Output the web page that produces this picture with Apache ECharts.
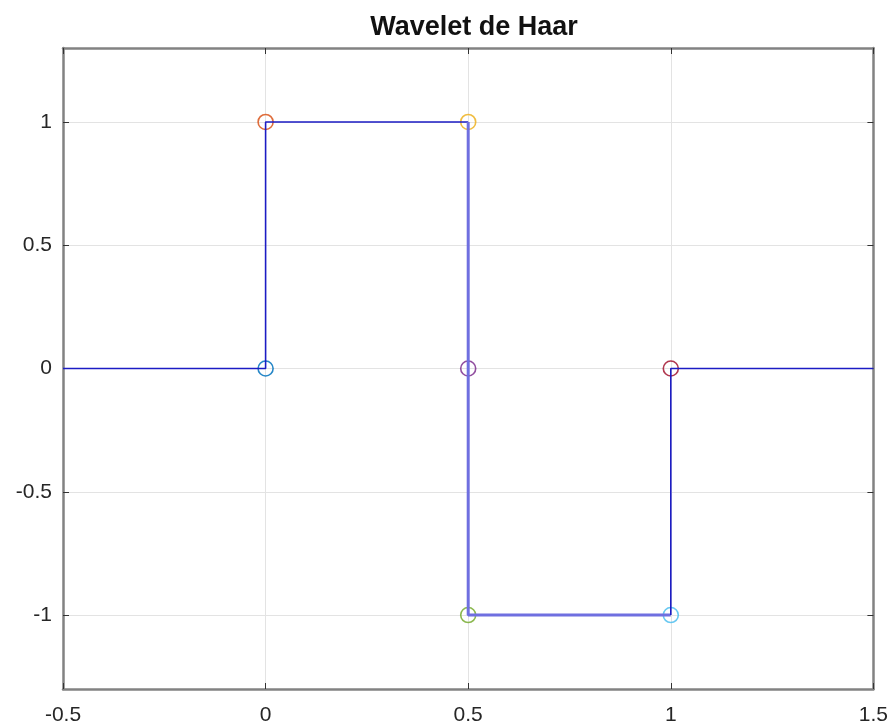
<!DOCTYPE html>
<html>
<head>
<meta charset="utf-8">
<script src="https://cdn.jsdelivr.net/npm/echarts@6/dist/echarts.min.js"></script>
<style>
  html, body { margin: 0; padding: 0; background: #fff; }
  #chart { width: 891px; height: 726px; }
</style>
</head>
<body>
<div id="chart"></div>
<script>
// Haar wavelet: step path and the breakpoint markers
const titleText = 'Wavelet de Haar';
const xTicks = [-0.5, 0, 0.5, 1, 1.5];
const yTicks = [-1, -0.5, 0, 0.5, 1];
const xRange = [-0.5, 1.5];
const yRange = [-1.3, 1.3];

// step path segments (x, y)
const pathDark = [[-0.5, 0], [0, 0], [0, 1], [0.5, 1]];
const pathLight = [[0.5, 1], [0.5, -1], [1, -1]];
const pathDark2 = [[1, -1], [1, 0], [1.5, 0]];

// breakpoint circles, one colour each
const pointXs = [0, 0, 0.5, 0.5, 0.5, 1, 1];
const pointYs = [0, 1, 1, 0, -1, -1, 0];
const pointColors = ['#0072BD', '#D95319', '#EDB120', '#7E2F8E', '#77AC30', '#4DBEEE', '#A2142F'];

const textColor = '#262626';
const boxColor = '#828282';
const gridColor = '#e3e3e3';
const font = '"Liberation Sans", Arial, Helvetica, sans-serif';

const chart = echarts.init(document.getElementById('chart'), null, { renderer: 'canvas' });

const circleSeries = pointXs.map((x, i) => ({
  type: 'scatter',
  xAxisIndex: 0, yAxisIndex: 0,
  data: [[x, pointYs[i]]],
  symbol: 'circle',
  symbolSize: 15,
  itemStyle: { color: 'transparent', borderColor: pointColors[i], borderWidth: 1.6, opacity: 0.85 },
  z: 2,
  silent: true
}));

function lineSeries(data, color, width) {
  return {
    type: 'line',
    xAxisIndex: 0, yAxisIndex: 0,
    data: data,
    showSymbol: false,
    symbol: 'none',
    lineStyle: { color: color, width: width },
    z: 3,
    silent: true,
    animation: false
  };
}

const option = {
  animation: false,
  backgroundColor: '#ffffff',
  title: {
    text: titleText,
    left: 469,
    top: 9,
    textAlign: 'center',
    textStyle: { fontFamily: font, fontSize: 27, fontWeight: 'bold', color: '#111' }
  },
  grid: { left: 63, top: 48, right: 16, bottom: 37, show: false },
  xAxis: [{
    type: 'value', min: xRange[0], max: xRange[1], interval: 0.5,
    position: 'bottom',
    axisLine: { show: true, onZero: false, lineStyle: { color: boxColor, width: 2.5 } },
    axisTick: { show: true, inside: true, length: 6, lineStyle: { color: '#333', width: 1 } },
    axisLabel: { color: textColor, fontFamily: font, fontSize: 21, margin: 16,
      customValues: xTicks, formatter: v => String(v) },
    splitLine: { show: true, lineStyle: { color: gridColor, width: 1 } }
  }, {
    type: 'value', min: xRange[0], max: xRange[1], interval: 0.5,
    position: 'top',
    axisLine: { show: true, onZero: false, lineStyle: { color: boxColor, width: 2.5 } },
    axisTick: { show: true, inside: true, length: 6, lineStyle: { color: '#333', width: 1 } },
    axisLabel: { show: false },
    splitLine: { show: false }
  }],
  yAxis: [{
    type: 'value', min: yRange[0], max: yRange[1],
    position: 'left',
    axisLine: { show: true, onZero: false, lineStyle: { color: boxColor, width: 2.5 } },
    axisTick: { show: true, inside: true, length: 6, customValues: yTicks, lineStyle: { color: '#333', width: 1 } },
    axisLabel: { color: textColor, fontFamily: font, fontSize: 21, margin: 11,
      customValues: yTicks, formatter: v => String(v) },
    splitLine: { show: true, lineStyle: { color: gridColor, width: 1 } }
  }, {
    type: 'value', min: yRange[0], max: yRange[1],
    position: 'right',
    axisLine: { show: true, onZero: false, lineStyle: { color: boxColor, width: 2.5 } },
    axisTick: { show: true, inside: true, length: 6, customValues: yTicks, lineStyle: { color: '#333', width: 1 } },
    axisLabel: { show: false },
    splitLine: { show: false }
  }],
  series: [
    ...circleSeries,
    lineSeries(pathDark, '#1c1cc4', 1.6),
    lineSeries(pathLight, '#6f6fe0', 3),
    lineSeries(pathDark2, '#1c1cc4', 1.6)
  ]
};

chart.setOption(option);
</script>
</body>
</html>
